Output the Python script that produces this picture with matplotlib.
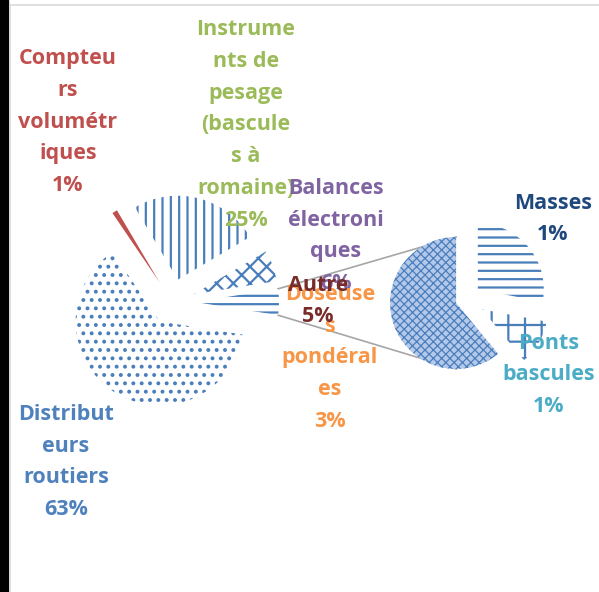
import numpy as np
import matplotlib
matplotlib.use('Agg')
import matplotlib.pyplot as plt
from matplotlib.patches import Rectangle

plt.rcParams['hatch.linewidth'] = 1.6
plt.rcParams['font.family'] = ['Open Sans', 'DejaVu Sans']

# --- données ---
# camembert principal (sens trigo, depuis la tranche "Autre")
main_names = ['Autre', 'Balances\nélectroni\nques', 'Instrume\nnts de\npesage\n(bascule\ns à\nromaine)',
              'Compteu\nrs\nvolumétr\niques', 'Distribut\neurs\nroutiers']
main_vals = [6, 25, 1, 63]          # Balances, Instruments, Compteurs, Distributeurs
# camembert secondaire (détail de "Autre")
sec_names = ['Doseuse\ns\npondéral\nes', 'Ponts\nbascules', 'Masses']
sec_vals = [3.05, 0.55, 1.4]

autre = sum(sec_vals)
main_all = [autre] + main_vals

blue = '#4a7ebb'
main_hatch = ['--', 'xx', '||', None, '..']
main_face = ['white', 'white', 'white', '#c0504d', 'white']
sec_hatch = ['xxxx', '+', '--']
sec_face = ['#b4c8ea', 'white', 'white']

fig = plt.figure(figsize=(5.99, 5.92), dpi=100)
ax = fig.add_axes([0, 0, 1, 1])

w_main, _ = ax.pie(main_all, center=(172, 290), radius=84, startangle=-9,
                   explode=[23] * 5, counterclock=True)
w_sec, _ = ax.pie(sec_vals, center=(465.5, 292.4), radius=66, startangle=90,
                  explode=[10, 19, 16], counterclock=True)

for w, h, fc in zip(w_main, main_hatch, main_face):
    w.set_facecolor(fc)
    w.set_edgecolor(blue if h else fc)
    w.set_linewidth(0)
    if h:
        w.set_hatch(h)
    w.set_zorder(3)
for i, (w, h, fc) in enumerate(zip(w_sec, sec_hatch, sec_face)):
    w.set_facecolor(fc)
    w.set_edgecolor(blue)
    w.set_linewidth(0)
    w.set_hatch(h)
    w.set_zorder(3)
    if i == 0 and hasattr(w, 'set_hatch_linewidth'):
        w.set_hatch_linewidth(0.9)

# lignes de liaison
wa, wd = w_main[0], w_sec[0]
ca = np.array(wa.center)
cd = np.array(wd.center)
for ang, yoff in [(wa.theta2, wd.r), (wa.theta1, -wd.r)]:
    p0 = ca + wa.r * np.array([np.cos(np.radians(ang)), np.sin(np.radians(ang))])
    p1 = cd + np.array([0, yoff])
    ax.plot([p0[0], p1[0]], [p0[1], p1[1]], color='#a6a6a6', lw=1.2, zorder=2)

# étiquettes
def pct(v):
    return f'{round(v)}%'

fs = 15.5
ls = 1.68
labels = [
    (main_names[2] + '\n' + pct(main_vals[1]), 246, 467, '#9bbb59'),
    (main_names[3] + '\n' + pct(main_vals[2]), 68, 470, '#c0504d'),
    (main_names[4] + '\n' + pct(main_vals[3]), 66, 130, '#4f81bd'),
    (main_names[1] + '\n' + pct(main_vals[0]), 336, 356, '#8064a2'),
    (sec_names[2] + '\n' + pct(sec_vals[2]), 553, 373, '#1f497d'),
    (sec_names[1] + '\n' + pct(sec_vals[1]), 549, 217, '#4bacc6'),
    (sec_names[0] + '\n' + pct(sec_vals[0]), 330, 234, '#f79646'),
    (main_names[0] + '\n' + pct(autre), 318, 291, '#772c2a'),
]
for i, (txt, x, y, c) in enumerate(labels):
    ax.text(x, y, txt, ha='center', va='center', multialignment='center',
            fontsize=fs, fontweight='bold', color=c, linespacing=ls, zorder=5 + i)

# cadre
ax.add_patch(Rectangle((0, 0), 8, 592, color='black', zorder=10))
ax.plot([9.5, 9.5], [0, 587], color='#d9d9d9', lw=1.2, zorder=10)
ax.plot([9.5, 599], [587, 587], color='#d9d9d9', lw=1.2, zorder=10)

ax.set_xlim(0, 599)
ax.set_ylim(0, 592)
ax.set_aspect('equal')
ax.axis('off')

fig.savefig('out.png', dpi=100)
